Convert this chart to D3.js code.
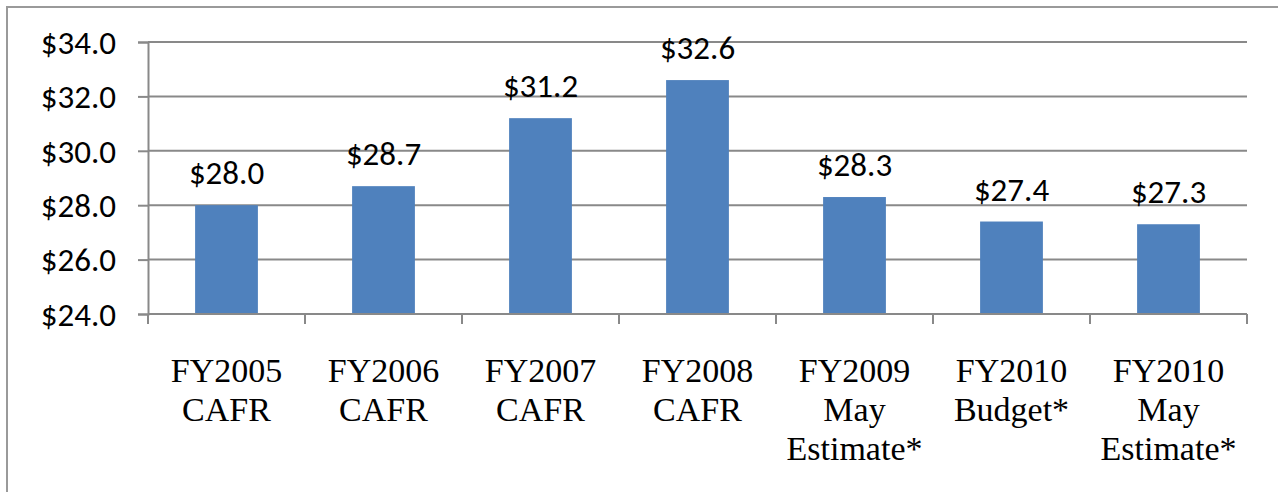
<!DOCTYPE html>
<html>
<head>
<meta charset="utf-8">
<script src="https://cdn.jsdelivr.net/npm/d3@7"></script>
<style>
  body { margin: 0; background: #fff; }
  svg { display: block; }
</style>
</head>
<body>
<svg id="chart"></svg>
<script>
const categories = [
    ["FY2005", "CAFR"],
    ["FY2006", "CAFR"],
    ["FY2007", "CAFR"],
    ["FY2008", "CAFR"],
    ["FY2009", "May", "Estimate*"],
    ["FY2010", "Budget*"],
    ["FY2010", "May", "Estimate*"]
];
const values = [28.0, 28.7, 31.2, 32.6, 28.3, 27.4, 27.3];
const yTicks = [24, 26, 28, 30, 32, 34];

const width = 1278, height = 492;
const margin = { top: 42, right: 31, bottom: 178, left: 148 };

const svg = d3.select("#chart")
    .attr("width", width)
    .attr("height", height);

// outer chart frame (only top and left visible)
svg.append("rect")
    .attr("x", 7).attr("y", 7)
    .attr("width", 1400).attr("height", 600)
    .attr("fill", "none")
    .attr("stroke", "#9a9a9a")
    .attr("stroke-width", 2);

const x = d3.scaleBand()
    .domain(d3.range(categories.length))
    .range([margin.left, width - margin.right])
    .paddingInner(0.6)
    .paddingOuter(0.3);

const y = d3.scaleLinear()
    .domain([24, 34])
    .range([height - margin.bottom, margin.top]);

const gridColor = "#898989";
const labelFont = "Carlito, 'Open Sans', 'Noto Sans', sans-serif";

// gridlines + y axis
const yAxis = svg.append("g")
    .attr("transform", `translate(${margin.left},0)`)
    .call(d3.axisLeft(y).tickValues(yTicks).tickSize(10).tickFormat(d => "$" + d.toFixed(1)));
yAxis.select(".domain").attr("stroke", gridColor).attr("stroke-width", 2);
yAxis.selectAll(".tick line").attr("stroke", gridColor).attr("stroke-width", 2);
yAxis.selectAll(".tick text")
    .attr("x", -32)
    .attr("dy", "0.34em")
    .style("font-family", labelFont)
    .style("font-size", "33px")
    .attr("fill", "#000");

svg.append("g")
    .selectAll("line")
    .data(yTicks.slice(1))
    .join("line")
    .attr("x1", margin.left)
    .attr("x2", width - margin.right)
    .attr("y1", d => y(d))
    .attr("y2", d => y(d))
    .attr("stroke", gridColor)
    .attr("stroke-width", 2);

// bars
svg.append("g")
    .selectAll("rect")
    .data(values)
    .join("rect")
    .attr("x", (d, i) => x(i))
    .attr("y", d => y(d))
    .attr("width", x.bandwidth())
    .attr("height", d => y(24) - y(d))
    .attr("fill", "#4F81BD");

// x axis with ticks between categories
const xb = svg.append("g");
xb.append("line")
    .attr("x1", margin.left).attr("x2", width - margin.right)
    .attr("y1", y(24)).attr("y2", y(24))
    .attr("stroke", gridColor).attr("stroke-width", 2);
const step = x.step();
xb.selectAll("line.tk")
    .data(d3.range(categories.length + 1))
    .join("line")
    .attr("class", "tk")
    .attr("x1", i => margin.left + i * step)
    .attr("x2", i => margin.left + i * step)
    .attr("y1", y(24))
    .attr("y2", y(24) + 10)
    .attr("stroke", gridColor).attr("stroke-width", 2);

// category labels
svg.append("g")
    .selectAll("text")
    .data(categories)
    .join("text")
    .attr("x", (d, i) => x(i) + x.bandwidth() / 2)
    .attr("y", 382)
    .attr("text-anchor", "middle")
    .style("font-family", "'Liberation Serif', 'Times New Roman', serif")
    .style("font-size", "34px")
    .attr("fill", "#000")
    .selectAll("tspan")
    .data(d => d)
    .join("tspan")
    .attr("x", function() { return this.parentNode.getAttribute("x"); })
    .attr("dy", (d, i) => i === 0 ? 0 : 39)
    .text(d => d);

// value labels
svg.append("g")
    .selectAll("text")
    .data(values)
    .join("text")
    .attr("x", (d, i) => x(i) + x.bandwidth() / 2)
    .attr("y", d => y(d) - 21)
    .attr("text-anchor", "middle")
    .style("font-family", labelFont)
    .style("font-size", "33px")
    .attr("fill", "#000")
    .text(d => "$" + d.toFixed(1));
</script>
</body>
</html>
